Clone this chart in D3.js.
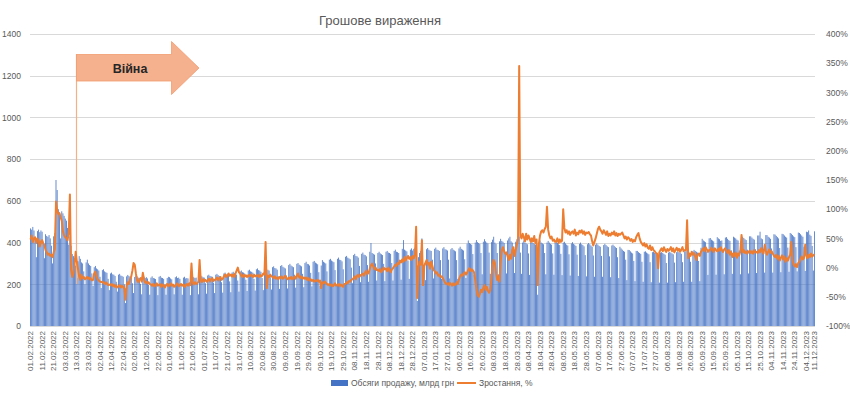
<!DOCTYPE html>
<html>
<head>
<meta charset="utf-8">
<script src="https://cdn.jsdelivr.net/npm/d3@7"></script>
<style>
  body { margin: 0; background: #fff; }
  svg text { font-family: 'Liberation Sans', 'DejaVu Sans', sans-serif; }
</style>
</head>
<body>
<div id="chart"></div>
<script>
// daily sales, bln UAH. one row = one week, the first row starts on Tue 01.02.2022
let salesBars = [
  468, 462, 475, 458, 410, 330,
  455, 462, 450, 458, 452, 400, 325,
  440, 432, 428, 436, 420, 385, 300,
  430, 445, 700, 652, 560, 545, 420,
  550, 540, 528, 515, 505, 470, 390,
  430, 385, 345, 335, 325, 290, 230,
  310, 335, 322, 305, 300, 262, 200,
  305, 318, 300, 292, 288, 252, 192,
  282, 288, 276, 272, 266, 236, 182,
  268, 272, 262, 258, 255, 226, 172,
  252, 256, 248, 246, 240, 212, 165,
  246, 250, 242, 240, 236, 200, 110,
  238, 245, 240, 236, 232, 205, 158,
  235, 242, 238, 232, 228, 202, 152,
  240, 236, 230, 234, 228, 198, 150,
  232, 238, 230, 228, 225, 196, 148,
  236, 240, 232, 230, 226, 200, 150,
  230, 236, 234, 228, 224, 198, 152,
  234, 238, 230, 232, 226, 200, 150,
  232, 236, 228, 230, 228, 198, 148,
  238, 240, 234, 230, 232, 202, 152,
  236, 242, 238, 234, 232, 205, 155,
  242, 246, 240, 238, 236, 208, 158,
  246, 250, 244, 240, 238, 210, 160,
  252, 256, 248, 246, 244, 214, 162,
  256, 260, 254, 250, 246, 218, 165,
  262, 266, 258, 256, 252, 222, 168,
  266, 270, 262, 260, 256, 226, 170,
  272, 276, 268, 266, 260, 230, 172,
  278, 296, 250, 270, 266, 234, 175,
  282, 286, 278, 276, 270, 238, 178,
  288, 292, 284, 280, 276, 242, 180,
  292, 298, 290, 286, 282, 246, 184,
  298, 302, 294, 290, 286, 250, 186,
  302, 308, 298, 296, 290, 255, 190,
  308, 312, 304, 300, 296, 258, 192,
  290, 316, 308, 304, 300, 262, 195,
  318, 322, 314, 310, 306, 268, 198,
  322, 328, 318, 316, 310, 272, 200,
  332, 336, 328, 324, 320, 280, 205,
  340, 346, 336, 334, 328, 288, 210,
  346, 352, 342, 340, 334, 292, 212,
  356, 398, 350, 346, 342, 300, 218,
  350, 356, 348, 344, 340, 298, 215,
  356, 360, 352, 350, 346, 302, 218,
  360, 366, 356, 354, 350, 306, 222,
  370, 412, 366, 362, 358, 314, 226,
  366, 372, 362, 370, 375, 400, 120,
  330, 350, 360, 420, 250, 300, 220,
  368, 374, 366, 362, 360, 318, 228,
  370, 376, 366, 364, 360, 316, 226,
  372, 378, 368, 366, 362, 318, 228,
  368, 374, 366, 362, 358, 316, 226,
  372, 380, 370, 366, 362, 320, 230,
  395, 410, 398, 394, 390, 345, 245,
  400, 412, 402, 398, 394, 350, 248,
  404, 416, 406, 400, 396, 352, 250,
  402, 414, 428, 400, 394, 350, 248,
  406, 418, 408, 404, 398, 354, 252,
  410, 420, 428, 406, 400, 356, 254,
  404, 416, 406, 430, 352, 250, 400,
  410, 400, 396, 392, 348, 245, 398,
  408, 398, 394, 390, 340, 150, 396,
  410, 400, 396, 392, 350, 248, 400,
  408, 400, 394, 390, 348, 246, 398,
  406, 398, 392, 388, 346, 244, 400,
  404, 396, 390, 386, 344, 242, 396,
  402, 394, 390, 384, 342, 240, 394,
  400, 392, 388, 382, 340, 238, 392,
  398, 392, 386, 380, 338, 236, 390,
  396, 390, 384, 380, 336, 236, 388,
  394, 388, 382, 378, 334, 234, 386,
  390, 384, 378, 374, 330, 230, 380,
  372, 366, 360, 356, 318, 220, 365,
  364, 358, 352, 348, 312, 215, 360,
  360, 354, 350, 346, 308, 212, 356,
  358, 352, 348, 344, 306, 210, 354,
  356, 350, 346, 344, 304, 208, 352,
  354, 350, 346, 342, 302, 208, 352,
  356, 352, 348, 344, 304, 210, 354,
  358, 354, 350, 346, 306, 212, 356,
  360, 410, 350, 348, 308, 212, 358,
  365, 360, 356, 352, 312, 215, 375,
  418, 410, 406, 402, 358, 245, 420,
  422, 414, 410, 406, 360, 246, 426,
  420, 416, 408, 410, 362, 248, 424,
  426, 418, 412, 408, 364, 250, 428,
  424, 420, 414, 410, 362, 248, 432,
  428, 422, 416, 412, 366, 252, 430,
  430, 424, 418, 414, 368, 254, 434,
  434, 452, 420, 416, 370, 256, 436,
  436, 428, 424, 418, 372, 256, 440,
  438, 432, 426, 420, 374, 258, 442,
  440, 434, 428, 424, 376, 260, 446,
  442, 436, 430, 426, 378, 262, 448,
  446, 440, 434, 428, 380, 264, 452,
  450, 458, 438, 432, 384, 266, 454
]

// growth vs the same day a year before, %
let growthPct = [
  48, 55, 44, 50, 52, 42,
  50, 46, 36, 44, 47, 42, 38,
  30, 26, 22, 24, 20, 22, 18,
  26, 32, 113, 98, 92, 93, 86,
  80, 62, 55, 52, 50, 47, 60,
  125, -4, -16, -10, 5, 27, 10,
  -2, -15, -21, -12, -18, -16, -20,
  -18, -16, -20, -17, -19, -22, -21,
  -10, -7, -15, -20, -22, -24, -25,
  -24, -26, -28, -25, -27, -30, -29,
  -30, -28, -32, -29, -33, -31, -34,
  -32, -30, -34, -31, -33, -36, -55,
  -30, -25, -28, -20, -15, -5, 8,
  5, -10, -22, -25, -21, -18, -24,
  -9, -20, -26, -24, -27, -25, -28,
  -29, -31, -28, -32, -30, -27, -31,
  -30, -28, -33, -29, -31, -34, -30,
  -28, -32, -30, -27, -31, -29, -33,
  -31, -29, -27, -32, -30, -28, -31,
  -29, -33, -30, -28, -31, -27, -30,
  7, -26, -29, -25, -28, -27, -24,
  13, -22, -25, -20, -23, -21, -24,
  -22, -19, -24, -20, -18, -23, -21,
  -20, -17, -22, -18, -16, -21, -19,
  -15, -12, -16, -13, -10, -14, -12,
  -15, -12, -16, -10, -5, 0, -8,
  -10, -14, -16, -12, -15, -13, -16,
  -13, -15, -12, -14, -16, -12, -15,
  -14, -13, -16, -12, -15, -14, -10,
  -12, 44, -35, -14, -16, -12, -15,
  -16, -18, -15, -19, -17, -20, -16,
  -18, -15, -19, -17, -14, -18, -20,
  -17, -19, -16, -20, -18, -15, -19,
  -14, -10, -16, -18, -15, -19, -17,
  -19, -17, -21, -18, -22, -20, -23,
  -21, -24, -22, -23, -21, -24, -22,
  -35, -25, -27, -24, -26, -28, -30,
  -28, -31, -29, -32, -30, -27, -31,
  -30, -28, -32, -29, -31, -33, -28,
  -28, -25, -27, -23, -24, -21, -20,
  -18, -15, -20, -14, -12, -16, -13,
  -12, -10, -14, -8, -5, -11, -9,
  -2, 4, 7, 2, -3, 0, -4,
  -4, -6, -2, -8, -5, 0, -3,
  -2, -6, 0, -4, -8, -3, -1,
  2, 5, 3, 8, 6, 12, 9,
  14, 10, 18, 12, 16, 20, 15,
  18, 13, 20, 16, 22, 70, -52,
  0, 10, 5, 47, -30, 2, 8,
  13, 5, 8, -2, 10, 3, -4,
  -6, -10, -8, -14, -12, -16, -15,
  -18, -22, -26, -28, -27, -30, -26,
  -28, -31, -27, -30, -29, -25, -28,
  -20, -15, -12, -14, -10, -8, -12,
  -9, -4, -1, -6, -3, -5, -8,
  -20, -35, -47, -50, -45, -38, -42,
  -35, -30, -38, -33, -40, -43, -38,
  -20, 5, 13, 8, -10, -21, -15,
  -24, 10, 30, 35, 28, 24, 26,
  19, 13, 22, 15, 30, 35, 20,
  30, 40, 47, 345, 55, 50, 58,
  52, 45, 58, 48, 55, 50, 44,
  50, 45, 54, 42, 48, -30, 40,
  55, 62, 64, 60, 66, 70, 104,
  65, 55, 50, 53, 46, 48, 44,
  45, 50, 42, 48, 44, 46, 100,
  68, 60, 64, 58, 62, 56, 60,
  62, 58, 65, 55, 60, 57, 63,
  60, 64, 58, 62, 56, 60, 59,
  61, 57, 55, 45, 38, 44, 50,
  58, 66, 70, 65, 62, 58, 64,
  60, 56, 62, 54, 58, 55, 60,
  57, 62, 55, 59, 54, 58, 56,
  58, 60, 55, 50, 53, 48, 52,
  50, 46, 49, 44, 47, 45, 52,
  56, 59, 50, 44, 41, 38, 42,
  36, 40, 34, 32, 38, 30, 35,
  30, 28, 25, 24, -1, 26, 30,
  33, 28, 35, 30, 27, 32, 29,
  31, 35, 28, 33, 26, 30, 34,
  29, 32, 27, 31, 35, 28, 30,
  30, 81, 16, 24, 20, 27, 22,
  25, 19, 13, 22, 24, 20, 27,
  30, 33, 28, 35, 31, 27, 30,
  29, 34, 31, 27, 33, 30, 28,
  32, 29, 35, 30, 27, 31, 33,
  28, 25, 30, 22, 27, 18, 24,
  20, 26, 17, 24, 21, 28, 56,
  26, 30, 25, 28, 24, 27, 29,
  25, 28, 24, 30, 26, 27, 25,
  30, 26, 33, 28, 24, 39, 29,
  22, 27, 31, 25, 28, 24, 20,
  18, 22, 15, 20, 12, 17, 21,
  14, 19, 10, 16, 12, 18, 22,
  44, 12, 5, 2, 6, 1, 8,
  10, 15, 19, 14, 17, 39, 20,
  16, 22, 18, 24, 19, 21, 23
]

// every 10th day is labelled, plus the last one
let tickLabels = [
  '01.02.2022','11.02.2022','21.02.2022','03.03.2022','13.03.2022','23.03.2022','02.04.2022',
  '12.04.2022','22.04.2022','02.05.2022','12.05.2022','22.05.2022','01.06.2022','11.06.2022',
  '21.06.2022','01.07.2022','11.07.2022','21.07.2022','31.07.2022','10.08.2022','20.08.2022',
  '30.08.2022','09.09.2022','19.09.2022','29.09.2022','09.10.2022','19.10.2022','29.10.2022',
  '08.11.2022','18.11.2022','28.11.2022','08.12.2022','18.12.2022','28.12.2022','07.01.2023',
  '17.01.2023','27.01.2023','06.02.2023','16.02.2023','26.02.2023','08.03.2023','18.03.2023',
  '28.03.2023','08.04.2023','18.04.2023','28.04.2023','08.05.2023','18.05.2023','28.05.2023',
  '07.06.2023','17.06.2023','27.06.2023','07.07.2023','17.07.2023','27.07.2023','06.08.2023',
  '16.08.2023','26.08.2023','05.09.2023','15.09.2023','25.09.2023','05.10.2023','15.10.2023',
  '25.10.2023','04.11.2023','14.11.2023','24.11.2023','04.12.2023','11.12.2023'
]
let leftTicks = [0, 200, 400, 600, 800, 1000, 1200, 1400]
let rightTicks = [-100, -50, 0, 50, 100, 150, 200, 250, 300, 350, 400]

let title = 'Грошове вираження'
let seriesNames = ['Обсяги продажу, млрд грн', 'Зростання, %']

let size = { width: 850, height: 397 }
let margin = { top: 34, right: 35, bottom: 71, left: 30 }
let barColor = '#4472C4'
let lineColor = '#ED7D31'
let textColor = '#595959'

let svg = d3.select('#chart').append('svg')
            .attr('width', size.width)
            .attr('height', size.height)

let plotBottom = size.height - margin.bottom
let plotRight = size.width - margin.right

//scales
let idx = d3.range(salesBars.length)
let x = d3.scaleBand()
          .domain(idx)
          .range([margin.left, plotRight])
          .paddingInner(0.3)
          .paddingOuter(0.1)
let yLeft = d3.scaleLinear().domain([0, 1400]).range([plotBottom, margin.top])
let yRight = d3.scaleLinear().domain([-100, 400]).range([plotBottom, margin.top])

//gridlines
svg.append('g')
   .selectAll('line')
   .data(leftTicks)
   .enter()
   .append('line')
   .attr('x1', margin.left)
   .attr('x2', plotRight)
   .attr('y1', d => Math.round(yLeft(d)) + 0.5)
   .attr('y2', d => Math.round(yLeft(d)) + 0.5)
   .attr('stroke', '#D9D9D9')
   .attr('stroke-width', 1)

//bars
svg.append('g')
   .selectAll('rect')
   .data(salesBars)
   .enter()
   .append('rect')
   .attr('x', (d, i) => x(i))
   .attr('width', x.bandwidth())
   .attr('y', d => yLeft(d))
   .attr('height', d => yLeft(0) - yLeft(d))
   .attr('fill', barColor)

//war marker line under the arrow
svg.append('line')
   .attr('x1', 76.5).attr('x2', 76.5)
   .attr('y1', 54).attr('y2', 284)
   .attr('stroke', '#F4B183')
   .attr('stroke-width', 1.2)

//growth line
let line = d3.line()
             .x((d, i) => x(i) + x.bandwidth() / 2)
             .y(d => yRight(d))
svg.append('path')
   .datum(growthPct)
   .attr('d', line)
   .attr('fill', 'none')
   .attr('stroke', lineColor)
   .attr('stroke-width', 2)
   .attr('stroke-linejoin', 'round')

//axes
let leftAxis = svg.append('g')
                  .attr('transform', 'translate(' + (margin.left - 6) + ',0)')
                  .call(d3.axisLeft(yLeft).tickValues(leftTicks).tickSize(0).tickFormat(d3.format('d')))
let rightAxis = svg.append('g')
                   .attr('transform', 'translate(' + (plotRight + 8) + ',0)')
                   .call(d3.axisRight(yRight).tickValues(rightTicks).tickSize(0).tickFormat(d => d + '%'))
let labelIdx = tickLabels.map((t, k) => k < tickLabels.length - 1 ? k * 10 : salesBars.length - 1)
let bottomAxis = svg.append('g')
                    .attr('transform', 'translate(0,' + (plotBottom + 5) + ')')
                    .call(d3.axisBottom(x).tickValues(labelIdx).tickSize(0)
                            .tickFormat((d, k) => tickLabels[k]))
bottomAxis.selectAll('text')
          .style('text-anchor', 'end')
          .attr('transform', 'rotate(-90)')
          .attr('x', 0)
          .attr('y', 0)
          .attr('dx', 0)
          .attr('dy', '0.32em')

;[leftAxis, rightAxis, bottomAxis].forEach(a => {
  a.select('.domain').remove()
  a.selectAll('text').attr('fill', textColor).style('font-size', '8.5px')
})
bottomAxis.selectAll('text').style('font-size', '8px')

//title
svg.append('text')
   .attr('x', 380)
   .attr('y', 25)
   .attr('text-anchor', 'middle')
   .attr('fill', textColor)
   .style('font-size', '13px')
   .text(title)

//war arrow
let arrow = [[76.5, 54.5], [171.5, 54.5], [171.5, 41.5], [199, 68], [171.5, 94.5], [171.5, 81], [76.5, 81]]
svg.append('polygon')
   .attr('points', arrow.map(p => p.join(',')).join(' '))
   .attr('fill', '#F5B08E')
   .attr('stroke', '#F29C6E')
   .attr('stroke-width', 0.8)
svg.append('text')
   .attr('x', 130)
   .attr('y', 72.5)
   .attr('text-anchor', 'middle')
   .attr('fill', '#262626')
   .style('font-size', '12.5px')
   .style('font-weight', 'bold')
   .text('Війна')

//legend
let legend = svg.append('g').attr('transform', 'translate(0,383)')
legend.append('rect')
      .attr('x', 331).attr('y', -3)
      .attr('width', 17).attr('height', 6)
      .attr('fill', barColor)
legend.append('text')
      .attr('x', 351).attr('y', 3)
      .attr('fill', textColor)
      .style('font-size', '8.5px')
      .text(seriesNames[0])
legend.append('line')
      .attr('x1', 457).attr('x2', 476)
      .attr('y1', 0).attr('y2', 0)
      .attr('stroke', lineColor)
      .attr('stroke-width', 2)
legend.append('text')
      .attr('x', 479).attr('y', 3)
      .attr('fill', textColor)
      .style('font-size', '8.5px')
      .text(seriesNames[1])
</script>
</body>
</html>
